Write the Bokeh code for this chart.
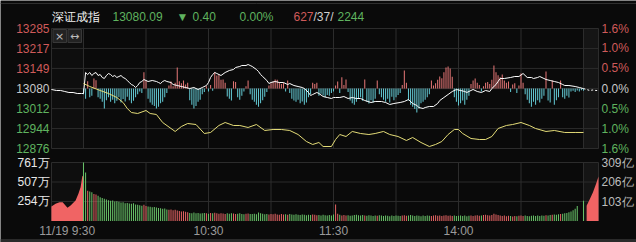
from bokeh.plotting import figure
from bokeh.models import Range1d, ColumnDataSource
from bokeh.core.properties import value
from bokeh.embed import file_html
from bokeh.resources import INLINE

# ---------------- data ----------------
TITLE = "深证成指"
LAST_PRICE = "13080.09"
CHANGE = "0.40"
CHANGE_PCT = "0.00%"
N_UP, N_FLAT, N_DOWN = "627", "37", "2244"
PREV_CLOSE = 13080.49

PRICE_TICKS = [13285, 13217, 13149, 13080, 13012, 12944, 12876]
PCT_LABELS = ["1.6%", "1.0%", "0.5%", "0.0%", "0.5%", "1.0%", "1.6%"]
VOL_TICKS = [761, 507, 254]
VOL_LABELS = ["761万", "507万", "254万"]
AMT_TICKS = [309, 206, 103]
AMT_LABELS = ["309亿", "206亿", "103亿"]
TIME_TICKS = [0, 60, 120, 180]
TIME_LABELS = ["9:30", "10:30", "11:30", "14:00"]
DATE_LABEL = "11/19"
GRID_MINUTES = [0, 30, 60, 90, 120, 150, 180, 210, 240]

# pre-market index line (minutes before 9:30)
pre_t = [-15.4, -13, -11, -9, -7, -5, -3, -1, 0]
pre_price = [13077.1, 13073.7, 13073.7, 13070.3, 13066.9, 13066.9, 13063.5, 13063.5, 13063.5]

# main session index line (minute index, 0 = 9:30, 240 = 15:00)
white_t = [0, 1, 2, 3, 4, 5, 6, 7, 8, 9, 10, 11, 12, 13, 14, 15, 16, 17, 18, 19, 20,
           21, 22, 23, 24, 25, 26, 27, 28, 29, 31, 33, 35, 36, 37, 38, 39, 40, 42, 43,
           45, 47, 49, 51, 53, 55, 57, 59, 60, 61, 62, 63, 64, 66, 68, 70, 72, 73, 75,
           76, 78, 79, 80, 81, 83, 84, 85, 86, 88, 89, 90, 92, 94, 96, 98, 99, 101, 103,
           105, 106, 108, 109, 110, 112, 113, 115, 117, 119, 120, 121, 123, 125, 127,
           129, 131, 133, 135, 138, 140, 143, 145, 147, 149, 152, 154, 156, 158, 160,
           161, 163, 164, 166, 168, 170, 171, 173, 175, 177, 179, 181, 183, 184, 186,
           187, 189, 191, 193, 195, 196, 198, 199, 200, 202, 205, 207, 209, 211, 213,
           215, 216, 218, 219, 221, 222, 224, 226, 228, 230, 231, 233, 236, 238, 240]
white_price = [13063.5, 13135.0, 13128.2, 13135.0, 13124.8, 13131.6, 13135.0, 13124.8,
               13128.2, 13118.0, 13114.6, 13124.8, 13131.6, 13128.2, 13121.4, 13124.8,
               13118.0, 13121.4, 13124.8, 13118.0, 13114.6, 13107.8, 13100.9, 13094.1,
               13090.7, 13083.9, 13090.7, 13100.9, 13104.4, 13111.2, 13104.4, 13107.8,
               13104.4, 13100.9, 13097.5, 13104.4, 13107.8, 13104.4, 13100.9, 13094.1,
               13090.7, 13087.3, 13083.9, 13080.5, 13083.9, 13077.1, 13083.9, 13090.7,
               13100.9, 13118.0, 13128.2, 13135.0, 13131.6, 13124.8, 13135.0, 13141.8,
               13145.3, 13152.1, 13155.5, 13158.9, 13158.9, 13162.3, 13158.9, 13155.5,
               13145.3, 13138.4, 13128.2, 13121.4, 13107.8, 13097.5, 13100.9, 13104.4,
               13100.9, 13100.9, 13094.1, 13097.5, 13090.7, 13087.3, 13083.9, 13080.5,
               13066.9, 13056.6, 13060.0, 13066.9, 13063.5, 13053.2, 13049.8, 13046.4,
               13049.8, 13049.8, 13049.8, 13053.2, 13046.4, 13049.8, 13046.4, 13046.4,
               13039.6, 13032.8, 13036.2, 13036.2, 13032.8, 13026.0, 13029.4, 13032.8,
               13036.2, 13043.0, 13029.4, 13022.6, 13015.7, 13012.3, 13015.7, 13019.2,
               13019.2, 13029.4, 13039.6, 13049.8, 13060.0, 13070.3, 13077.1, 13073.7,
               13070.3, 13066.9, 13073.7, 13077.1, 13070.3, 13066.9, 13073.7, 13070.3,
               13080.5, 13094.1, 13104.4, 13114.6, 13114.6, 13118.0, 13121.4, 13121.4,
               13131.6, 13118.0, 13118.0, 13114.6, 13118.0, 13121.4, 13114.6, 13111.2,
               13107.8, 13104.4, 13100.9, 13094.1, 13090.7, 13090.7, 13087.3, 13083.9,
               13080.09]

# post-close line
post_t = [240, 241.5, 243, 244.5, 246, 247.2]
post_price = [13080.09, 13077.1, 13073.7, 13075.4, 13073.7, 13073.7]

# second (yellow) line
yellow_t = [0, 3, 8, 12, 16, 19, 21, 23, 26, 30, 32, 35, 38, 42, 44, 47, 50, 54, 58,
            61, 65, 68, 72, 75, 79, 83, 87, 91, 95, 99, 103, 107, 110, 113, 115, 119,
            121, 123, 126, 129, 133, 137, 140, 144, 147, 151, 155, 158, 162, 166, 169,
            172, 175, 178, 180, 182, 186, 190, 193, 196, 199, 203, 206, 210, 214, 217,
            222, 226, 231, 236, 240]
yellow_price = [13097.5, 13087.3, 13073.7, 13063.5, 13049.8, 13032.8, 13012.3, 12998.7,
                12995.3, 13005.5, 12995.3, 12991.9, 12964.6, 12944.2, 12934.0, 12951.0,
                12961.2, 12957.8, 12927.1, 12930.6, 12954.4, 12964.6, 12954.4, 12954.4,
                12947.6, 12957.8, 12937.4, 12940.8, 12940.8, 12937.4, 12923.7, 12899.9,
                12889.7, 12896.5, 12882.8, 12882.8, 12906.7, 12923.7, 12916.9, 12934.0,
                12927.1, 12923.7, 12927.1, 12934.0, 12923.7, 12916.9, 12903.3, 12913.5,
                12896.5, 12882.8, 12889.7, 12899.9, 12923.7, 12940.8, 12940.8, 12927.1,
                12910.1, 12906.7, 12906.7, 12916.9, 12944.2, 12954.4, 12957.8, 12964.6,
                12954.4, 12944.2, 12934.0, 12937.4, 12930.6, 12930.6, 12930.6]

# red / cyan strength bars (points from previous close), one per minute 0..240
bars = [-20, -35, 25, -30, -25, 34, 28, -30, -35, -45, -68, -40, -30, -45, -38, -50,
        -42, -30, -48, -36, -44, -28, -40, -50, -42, -30, -20, -10, -15, 55, 27, -35,
        -48, -55, -60, -68, -62, -50, -45, -30, -15, 10, 24, 8, 20, 72, 25, 18, 27, 14,
        20, -40, -55, -68, -60, -45, -38, -20, -12, 8, -10, 12, -8, 55, 44, 48, 30, 31,
        20, -27, -35, -41, 25, 22, -30, -38, -25, -10, 8, 27, -20, -38, -45, -55, -62,
        -50, -40, -28, -12, 10, 18, 25, 31, 30, 22, 15, 20, -10, 27, -15, -35, -41, -45,
        -38, -50, -44, -55, -48, -30, -20, 20, 15, 20, -25, -18, -24, -30, -22, -25, -15,
        -10, 10, 24, -15, 38, 12, 31, -12, -41, -50, -55, -45, -35, -30, -42, 31, -45,
        -51, -40, -48, -35, 27, -20, -30, -38, -45, -35, -48, -28, -40, -30, -22, -15, 12,
        61, 20, -41, -55, -62, -70, -82, -68, -50, -45, -38, -30, -20, 27, 10, 18, 30, 41,
        35, 55, 72, 75, 68, 40, -30, -45, -58, -50, -41, -55, -38, -25, 15, 27, 34, 20, 12,
        -10, 8, 20, 22, 15, 30, 78, 55, 45, 38, 48, 27, 20, 24, -12, 14, 18, -15, 10, 51,
        20, -20, -38, -50, -62, -45, -55, -40, -48, -35, -25, 58, -41, -48, 27, -55, -40,
        -30, 27, -30, -35, -25, -31, -10, -8, -12, -7, -10, -6, -8]

# volume per minute (万), 0..240
volume = [761, 630, 395, 385, 375, 350, 345, 330, 310, 300, 290, 280, 270, 265, 268, 255,
          258, 250, 240, 245, 232, 235, 228, 225, 230, 215, 210, 205, 200, 210, 195, 190,
          185, 180, 182, 175, 170, 165, 160, 162, 150, 145, 148, 140, 145, 138, 130, 125,
          128, 120, 115, 105, 100, 110, 100, 105, 98, 100, 105, 102, 95, 105, 100, 108,
          100, 95, 100, 98, 92, 100, 95, 102, 98, 90, 95, 100, 92, 88, 95, 98, 90, 92, 95,
          88, 110, 102, 95, 88, 92, 85, 90, 88, 95, 85, 82, 90, 85, 88, 80, 92, 85, 80, 88,
          82, 78, 85, 80, 75, 82, 78, 85, 80, 75, 78, 72, 80, 75, 70, 78, 72, 85, 215, 95,
          80, 72, 78, 70, 75, 68, 72, 78, 82, 75, 70, 78, 72, 68, 75, 70, 65, 72, 68, 75,
          70, 65, 72, 68, 62, 70, 66, 72, 68, 65, 70, 75, 68, 72, 78, 70, 65, 72, 68, 62,
          70, 66, 72, 68, 64, 70, 75, 68, 72, 66, 70, 75, 68, 72, 65, 70, 64, 68, 72, 66,
          70, 62, 68, 72, 66, 70, 75, 68, 72, 78, 82, 75, 70, 78, 95, 85, 78, 72, 65, 70,
          62, 68, 65, 60, 66, 62, 68, 72, 65, 70, 66, 62, 68, 72, 66, 70, 65, 72, 68, 75,
          70, 78, 82, 85, 80, 88, 92, 95, 100, 105, 115, 125, 140, 160, 195, 0, 0, 265]

# pre-market volume area (万) and post-close amount area (亿)
pre_vol_t = [-15.4, -13.4, -11.5, -10, -7.7, -6.2, -3.8, -2.4, -1.4, -0.6, 0]
pre_vol = [189, 224, 245, 245, 172, 202, 267, 358, 440, 579, 600]
post_amt_t = [241.5, 243, 244.5, 246, 247.2]
post_amt = [80, 115, 150, 195, 235]

# ---------------- layout (pixels) ----------------
W, H = 636, 242
X_OPEN_PX = 83.0
PX_PER_MIN = 500.0 / 240.0
FRAME_L_PX, FRAME_R_PX = 51.0, 598.0
P_TOP_PX, P_BOT_PX = 28.0, 148.0
V_TOP_PX, V_BASE_PX = 162.0, 220.5

BG = "#0a0a0a"
GRID = "#2c2c2c"
RED_TXT = "#cf5a5a"
GREEN_TXT = "#5fb35f"
GRAY_TXT = "#c8c8c8"
FONT = value("Liberation Sans")


def xpx(X):
    return (X - X_OPEN_PX) / PX_PER_MIN


pp = (PRICE_TICKS[0] - PRICE_TICKS[-1]) / (P_BOT_PX - P_TOP_PX)


def ypx(Y):
    return PRICE_TICKS[0] - (Y - P_TOP_PX) * pp


vp = VOL_TICKS[0] / (V_BASE_PX - V_TOP_PX)
ap = AMT_TICKS[0] / (V_BASE_PX - V_TOP_PX)

p = figure(width=W, height=H, output_backend="svg", toolbar_location=None,
           x_range=Range1d(xpx(0), xpx(W)), y_range=Range1d(ypx(H), ypx(0)),
           x_axis_type=None, y_axis_type=None, min_border=0,
           background_fill_color=BG, border_fill_color=BG, outline_line_color=None)
p.grid.visible = False
p.extra_y_ranges = {
    "vol": Range1d(-(H - V_BASE_PX) * vp, V_BASE_PX * vp),
    "amt": Range1d(-(H - V_BASE_PX) * ap, V_BASE_PX * ap),
}

xl, xr = xpx(FRAME_L_PX), xpx(FRAME_R_PX)
lo, hi = PRICE_TICKS[-1], PRICE_TICKS[0]

# shaded pre / post regions
p.quad(left=[xl, 240], right=[0, xr], bottom=[lo, lo], top=[hi, hi],
       fill_color=["#0e0e0e", "#151515"], line_color=None)
p.quad(left=[xl, 240], right=[0, xr], bottom=[0, 0], top=[VOL_TICKS[0]] * 2,
       fill_color=["#0e0e0e", "#151515"], line_color=None, y_range_name="vol")

# grid lines
vx = [xl] + GRID_MINUTES + [xr]
p.segment(x0=[xl] * len(PRICE_TICKS), x1=[xr] * len(PRICE_TICKS),
          y0=PRICE_TICKS, y1=PRICE_TICKS, line_color=GRID, line_width=1)
p.segment(x0=vx, x1=vx, y0=[lo] * len(vx), y1=[hi] * len(vx), line_color=GRID, line_width=1)
p.segment(x0=[xl] * 3, x1=[xr] * 3, y0=VOL_TICKS, y1=VOL_TICKS, line_color=GRID,
          line_width=1, y_range_name="vol")
p.segment(x0=vx, x1=vx, y0=[0] * len(vx), y1=[VOL_TICKS[0]] * len(vx), line_color=GRID,
          line_width=1, y_range_name="vol")

# top rule and bottom band
p.segment(x0=[xpx(0)], x1=[xpx(W)], y0=[ypx(3)], y1=[ypx(3)], line_color="#2e2e2e")
p.quad(left=[xpx(0)], right=[xpx(W)], top=[ypx(238.5)], bottom=[ypx(H)],
       fill_color="#2a2a2a", line_color=None)

# strength bars
minutes = list(range(len(bars)))
bsrc = ColumnDataSource(dict(
    x=minutes,
    bottom=[PREV_CLOSE] * len(bars),
    top=[PREV_CLOSE + b for b in bars],
    color=["#e07474" if b > 0 else "#62c6d0" for b in bars],
))
p.vbar(x="x", bottom="bottom", top="top", width=0.5, fill_color="color",
       line_color=None, source=bsrc)

# lines
p.line(pre_t, pre_price, line_color="white", line_width=1)
p.line(white_t, white_price, line_color="white", line_width=1)
p.line(post_t, post_price, line_color="white", line_width=1, line_dash="2 2")
p.line(yellow_t, yellow_price, line_color="#e4dc78", line_width=1)

# volume
vsrc = ColumnDataSource(dict(
    x=list(range(len(volume))), top=volume,
    color=["#e06262" if b > 0 else "#67c067" for b in bars],
))
p.varea(x=pre_vol_t, y1=[0] * len(pre_vol), y2=pre_vol, fill_color="#f06464",
        y_range_name="vol")
p.vbar(x="x", bottom=0, top="top", width=0.5, fill_color="color", line_color=None,
       source=vsrc, y_range_name="vol")
p.varea(x=post_amt_t, y1=[0] * len(post_amt), y2=post_amt, fill_color="#f06464",
        y_range_name="amt")

# icons
p.quad(left=[xpx(52.5), xpx(67.5)], right=[xpx(66), xpx(81)], top=[ypx(29)] * 2,
       bottom=[ypx(42)] * 2, fill_color="#232323", line_color="#383838")
p.text(x=[xpx(59.2), xpx(74.2)], y=[ypx(35.5)] * 2, text=["×", "↔"],
       text_color="#bdbdbd", text_font=value("DejaVu Sans"), text_font_size="11px",
       text_align="center", text_baseline="middle")


def labels(xs, ys, texts, colors, align, size="12px", rng="default"):
    src = ColumnDataSource(dict(x=xs, y=ys, text=texts, color=colors))
    p.text(x="x", y="y", text="text", text_color="color", source=src, text_font=FONT,
           text_font_size=size, text_align=align, text_baseline="middle",
           y_range_name=rng)


tick_colors = [RED_TXT] * 3 + [GRAY_TXT] + [GREEN_TXT] * 3
labels([xpx(49)] * 7, PRICE_TICKS, [str(t) for t in PRICE_TICKS], tick_colors, "right")
labels([xpx(601)] * 7, PRICE_TICKS, PCT_LABELS, tick_colors, "left")
labels([xpx(49)] * 3, VOL_TICKS, VOL_LABELS, ["#e8e8e8"] * 3, "right", rng="vol")
labels([xpx(601)] * 3, AMT_TICKS, AMT_LABELS, ["#bcbcbc"] * 3, "left", rng="amt")

# time labels
labels(TIME_TICKS, [ypx(230.5)] * 4, TIME_LABELS, ["#9a9a9a"] * 4, "center")
labels([xpx(68)], [ypx(230.5)], [DATE_LABEL], ["#9a9a9a"], "right")

# header
hy = ypx(16)
labels([xpx(51), xpx(112), xpx(176), xpx(192), xpx(239), xpx(293), xpx(313), xpx(337)],
       [hy] * 8,
       [TITLE, LAST_PRICE, "▼", CHANGE, CHANGE_PCT, N_UP, "/" + N_FLAT + "/", N_DOWN],
       ["#f0f0f0", GREEN_TXT, GREEN_TXT, GREEN_TXT, GREEN_TXT, RED_TXT, "#d0d0d0",
        GREEN_TXT], "left")

open("out.html", "w").write(file_html(p, INLINE))
